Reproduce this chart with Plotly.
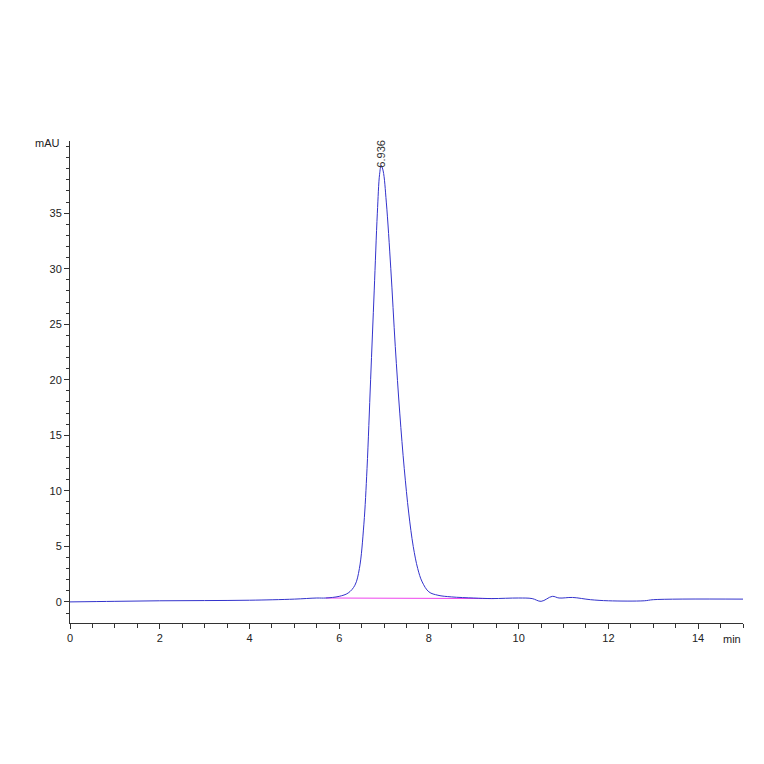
import plotly.graph_objects as go

# chromatogram trace (min, mAU)
time_min = [0, 1, 2, 3, 4, 5, 5.5, 5.7, 6.0, 6.2, 6.35, 6.45, 6.55, 6.62, 6.7, 6.78, 6.85, 6.9,
            6.936, 6.98, 7.05, 7.15, 7.25, 7.35, 7.45, 7.55, 7.65, 7.75, 7.85, 8.0, 8.2, 8.5,
            9.0, 9.4, 10.0, 10.3, 10.5, 10.75, 10.9, 11.2, 11.6, 12.0, 12.8, 13.0, 15.0]
signal_mau = [0.0, 0.05, 0.1, 0.12, 0.15, 0.25, 0.35, 0.35, 0.5, 0.8, 1.5, 3, 7, 12, 20, 28, 35, 38.5,
              39.3, 38.8, 36, 30, 23, 17, 12, 8, 5, 3, 1.8, 0.9, 0.6, 0.45,
              0.35, 0.3, 0.35, 0.3, 0.05, 0.5, 0.35, 0.4, 0.2, 0.1, 0.1, 0.2, 0.25]

baseline_t = [5.7, 9.45]
baseline_y = [0.35, 0.3]

peak_rt = 6.936
peak_h = 39.3

fig = go.Figure()
fig.add_trace(go.Scatter(x=baseline_t, y=baseline_y, mode="lines",
                         line=dict(color="#ee44ee", width=1), hoverinfo="skip"))
fig.add_trace(go.Scatter(x=time_min, y=signal_mau, mode="lines", line_shape="spline",
                         line=dict(color="#3333cc", width=1)))

fig.add_annotation(x=peak_rt, y=peak_h, text=f"{peak_rt:.3f}", textangle=-90,
                   showarrow=False, yanchor="bottom", yshift=-4, font=dict(size=11, color="#333"))
fig.add_annotation(x=0, y=41.3, xref="paper", text="mAU", showarrow=False, xanchor="right",
                   xshift=-8, font=dict(size=11, color="#222"))
fig.add_annotation(x=15, y=0, yref="paper", text="min", showarrow=False, yanchor="top",
                   yshift=-8, xanchor="right", font=dict(size=11, color="#222"))

axis_style = dict(showgrid=False, zeroline=False, showline=True, linecolor="#333", linewidth=1,
                  ticks="outside", ticklen=5, tickcolor="#333",
                  tickfont=dict(size=11, color="#222"))
fig.update_xaxes(range=[0, 15], tickvals=[0, 2, 4, 6, 8, 10, 12, 14],
                 minor=dict(dtick=0.5, tick0=0, ticks="outside", ticklen=4, tickcolor="#333"),
                 **axis_style)
fig.update_yaxes(range=[-1.9, 41.5], tickvals=[0, 5, 10, 15, 20, 25, 30, 35],
                 minor=dict(dtick=1, tick0=0, ticks="outside", ticklen=3, tickcolor="#333"),
                 **axis_style)
fig.update_layout(width=764, height=764, showlegend=False,
                  margin=dict(l=62, r=29, t=133, b=149),
                  paper_bgcolor="white", plot_bgcolor="white",
                  font=dict(family="Liberation Sans, Arial, sans-serif"))
fig.write_html("out.html")
